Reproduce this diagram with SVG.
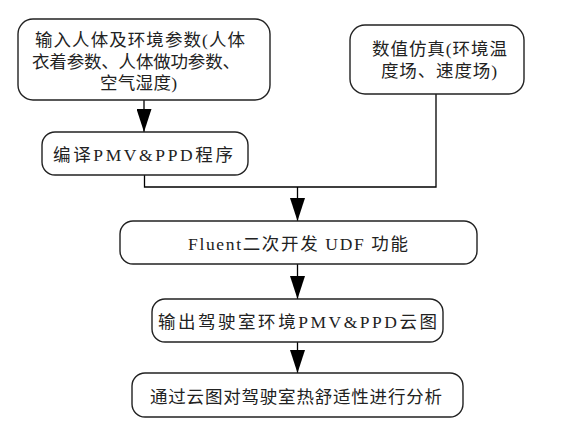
<svg xmlns="http://www.w3.org/2000/svg" width="580" height="428" viewBox="0 0 580 428">
<defs>
<style>
.box{fill:#fff;stroke:#222;stroke-width:1.4}
.t{font-family:"Liberation Serif","Noto Sans CJK SC",serif;font-size:17.5px;fill:#222}
.c{fill:none;stroke:#000;stroke-width:1.3}
</style>
<marker id="ah" viewBox="0 0 23 15" refX="23" refY="7.5" markerWidth="23" markerHeight="15" markerUnits="userSpaceOnUse" orient="auto">
<path d="M0,0 L23,7.5 L0,15 z" fill="#000"/>
</marker>
</defs>
<rect width="580" height="428" fill="#fff"/>
<g id="connectors">
<path class="c" d="M144,100 V132" marker-end="url(#ah)"/>
<path class="c" d="M144.5,175 V187 H436 V94"/>
<path class="c" d="M297.5,187 V221" marker-end="url(#ah)"/>
<path class="c" d="M297.5,264 V299" marker-end="url(#ah)"/>
<path class="c" d="M297.5,342 V373" marker-end="url(#ah)"/>
</g>
<g id="input">
<rect class="box" x="18" y="19" width="252" height="81" rx="15"/>
<text class="t" x="35" y="46" textLength="210">输入人体及环境参数(人体</text>
<text class="t" x="32" y="68" textLength="208">衣着参数、人体做功参数、</text>
<text class="t" x="100" y="89" textLength="77">空气湿度)</text>
</g>
<g id="compile">
<rect class="box" x="42" y="132" width="206" height="43" rx="13"/>
<text class="t" x="53" y="161" textLength="180">编译PMV&amp;PPD程序</text>
</g>
<g id="simulation">
<rect class="box" x="350" y="25" width="174" height="69" rx="15"/>
<text class="t" x="372" y="55" textLength="135">数值仿真(环境温</text>
<text class="t" x="381" y="77" textLength="116">度场、速度场)</text>
</g>
<g id="fluent">
<rect class="box" x="120" y="221" width="357" height="43" rx="13"/>
<text class="t" x="188" y="250" textLength="220">Fluent二次开发 UDF 功能</text>
</g>
<g id="output">
<rect class="box" x="152" y="299" width="291" height="43" rx="13"/>
<text class="t" x="158" y="328" textLength="279">输出驾驶室环境PMV&amp;PPD云图</text>
</g>
<g id="analysis">
<rect class="box" x="132" y="373" width="331" height="44" rx="13"/>
<text class="t" x="150" y="403" textLength="292">通过云图对驾驶室热舒适性进行分析</text>
</g>
</svg>
